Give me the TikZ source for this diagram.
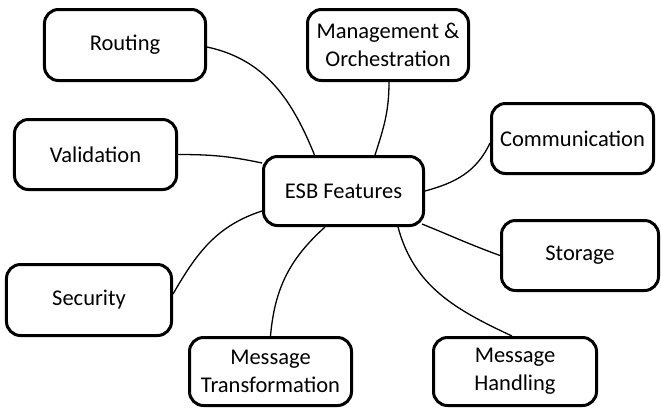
\documentclass[tikz,border=0pt]{standalone}
\usepackage{fontspec}
\setmainfont{Carlito}
\begin{document}
\begin{tikzpicture}[x=1bp,y=-1bp,
  box/.style={draw=black, line width=3bp, rounded corners=14bp, fill=white,
    align=center, inner sep=2bp, font=\fontsize{22.5bp}{28bp}\selectfont},
  link/.style={draw=black, line width=1.3bp}]
\useasboundingbox (0,0) rectangle (661,408);
\node[box, minimum width=161bp, minimum height=71bp] (routing) at (125,45) {Routing};
\node[box, minimum width=162bp, minimum height=70bp] (valid) at (95.5,154.5) {Validation};
\node[box, minimum width=161bp, minimum height=71bp] (mgmt) at (388,45) {Management \&\\Orchestration};
\node[box, minimum width=162bp, minimum height=70bp] (comm) at (572.5,138.5) {Communication};
\node[box, minimum width=165bp, minimum height=71bp] (sec) at (89,300) {Security};
\node[box, minimum width=162bp, minimum height=68bp] (trans) at (270.5,371.5) {Message\\Transformation};
\node[box, minimum width=157bp, minimum height=70bp] (stor) at (580,255.5) {Storage};
\node[box, minimum width=163bp, minimum height=68bp] (hand) at (515,371.5) {Message\\Handling};
\node[box, minimum width=160bp, minimum height=69bp] (esb) at (343.5,191) {ESB Features};

\draw[link] ([yshift=-2bp]routing.east) to[out=-12, in=112] ([xshift=-29bp]esb.north);
\draw[link] ([xshift=1bp]mgmt.south) to[out=-90, in=72] ([xshift=31.5bp]esb.north);
\draw[link] ([yshift=-4.5bp]comm.west) to[out=-115, in=15] (esb.east);
\draw[link] (valid.east) to[out=0, in=168] ([yshift=28bp]esb.west);
\draw[link] ([yshift=6bp]sec.east) to[out=60, in=-162] ([yshift=-20bp]esb.west);
\draw[link] (trans.north) to[out=85, in=222] ([xshift=-18.5bp]esb.south);
\draw[link] ([xshift=-3bp,yshift=3bp]esb.south east) to[out=-22, in=160] (stor.west);
\draw[link] ([xshift=54.5bp]esb.south) to[out=-75, in=155] ([xshift=-3bp]hand.north);
\end{tikzpicture}
\end{document}
